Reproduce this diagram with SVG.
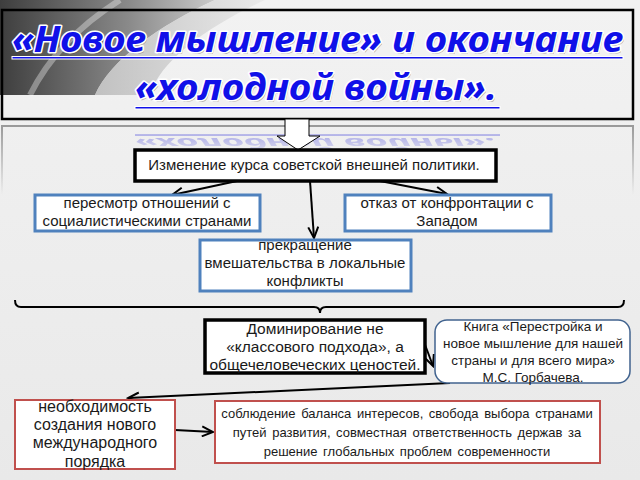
<svg xmlns="http://www.w3.org/2000/svg" width="640" height="480" viewBox="0 0 640 480">
<style>
.t{font-family:"Liberation Sans","DejaVu Sans",sans-serif;fill:#1a1a1a;text-anchor:middle}
.bk{fill:#fff;stroke:#000;stroke-width:3.5}
.bl{fill:#fff;stroke:#4f81bd;stroke-width:3}
.rd{fill:#fff;stroke:#c0504d;stroke-width:2}
.con line{stroke:#000;stroke-width:2;marker-end:url(#ah)}
.ttl{font-family:"Noto Sans","DejaVu Sans",sans-serif;font-style:italic;font-weight:bold;font-size:35px;fill:#1010e8;stroke:#fff;stroke-width:3;paint-order:stroke;stroke-linejoin:round}
.sh{font-family:"Noto Sans","DejaVu Sans",sans-serif;font-style:italic;font-weight:bold;font-size:35px;fill:#000;opacity:0.25}
</style>
<defs>
<linearGradient id="bg" x1="0" y1="0" x2="0" y2="1"><stop offset="0" stop-color="#f2f2f2"/><stop offset="1" stop-color="#e9e9e9"/></linearGradient>
<linearGradient id="sw" x1="0" y1="0" x2="1" y2="0"><stop offset="0" stop-color="#3e3e3e"/><stop offset="0.6" stop-color="#8a8a8a"/><stop offset="1" stop-color="#c9c9c9"/></linearGradient>
<linearGradient id="sw2" x1="0" y1="0" x2="1" y2="0"><stop offset="0" stop-color="#b5b5b5"/><stop offset="1" stop-color="#e8e8e8"/></linearGradient>
<linearGradient id="fr" gradientUnits="userSpaceOnUse" x1="0" y1="126" x2="0" y2="195"><stop offset="0" stop-color="#9a9a9a"/><stop offset="1" stop-color="#9a9a9a" stop-opacity="0"/></linearGradient>
<linearGradient id="rf" gradientUnits="userSpaceOnUse" x1="0" y1="133" x2="0" y2="155"><stop offset="0" stop-color="#fff" stop-opacity="0.9"/><stop offset="1" stop-color="#fff" stop-opacity="0.1"/></linearGradient>
<mask id="rm"><rect x="0" y="130" width="640" height="30" fill="url(#rf)"/></mask>
<marker id="ah" markerUnits="userSpaceOnUse" markerWidth="14" markerHeight="12" viewBox="0 0 14 12" refX="12" refY="6" orient="auto"><path d="M1,1 L12,6 L1,11" fill="none" stroke="#000" stroke-width="2"/></marker>
</defs>
<rect width="640" height="480" fill="url(#bg)"/>
<path d="M0,0 H215 C160,25 110,60 95,95 H0 Z" fill="url(#sw)"/>
<path d="M215,0 H265 C210,25 160,60 150,95 H95 C110,60 160,25 215,0 Z" fill="url(#sw2)" opacity="0.8"/>
<path d="M120,0 C80,25 50,55 30,95" fill="none" stroke="#fff" stroke-width="6" opacity="0.35"/>

<g id="title">
<rect x="2" y="10" width="631" height="109" fill="none" stroke="#000" stroke-width="2.5"/>
<text class="sh" x="13.5" y="53.5" textLength="611" lengthAdjust="spacingAndGlyphs">«Новое мышление» и окончание</text>
<text class="ttl" x="12" y="52" textLength="611" lengthAdjust="spacingAndGlyphs">«Новое мышление» и окончание</text>
<rect x="12" y="56.5" width="611" height="2.5" fill="#1010e8" stroke="#fff" stroke-width="1"/>
<text class="sh" x="136.5" y="101.5" textLength="362" lengthAdjust="spacingAndGlyphs">«холодной войны».</text>
<text class="ttl" x="135" y="100" textLength="362" lengthAdjust="spacingAndGlyphs">«холодной войны».</text>
<rect x="135" y="106.5" width="365" height="2.5" fill="#1010e8" stroke="#fff" stroke-width="1"/>
</g>

<g id="reflection" mask="url(#rm)">
<g transform="translate(0,180.4) scale(1,-0.42)" opacity="0.6">
<text class="ttl" x="135" y="100" textLength="362" lengthAdjust="spacingAndGlyphs" style="fill:#6a6ae0;stroke:none">«холодной войны».</text>
<rect x="135" y="106" width="365" height="4" fill="#6a6ae0"/>
</g>
</g>

<path id="frame" d="M2,195 V126 H633 V195" fill="none" stroke="url(#fr)" stroke-width="2"/>

<g id="bigarrow">
<path d="M285,119 H309 V136 H320 L298,150 L277,136 H285 Z" fill="#fff" stroke="#000" stroke-width="1"/>
</g>

<g class="con" id="connectors">
<line x1="237" y1="181" x2="172" y2="195"/>
<line x1="310" y1="181" x2="314" y2="238"/>
<line x1="380" y1="181" x2="447" y2="194"/>
<line x1="421" y1="334" x2="433" y2="366"/>
<line x1="450" y1="383" x2="128" y2="398"/>
<line x1="175" y1="430" x2="213" y2="432"/>
<path d="M15,300 Q15,307 21,307 H314 Q320,307 320,313 Q320,307 326,307 H618 Q624,307 624,300" fill="none" stroke="#000" stroke-width="2"/>
</g>

<g id="n-course">
<rect class="bk" x="135" y="150" width="361" height="31"/>
<text class="t" x="314" y="170" font-size="15">Изменение курса советской внешней политики.</text>
</g>

<g id="n-socialist">
<rect class="bl" x="35" y="195" width="225" height="36"/>
<text class="t" x="147" y="208" font-size="15">пересмотр отношений с</text>
<text class="t" x="147" y="226" font-size="15">социалистическими странами</text>
</g>

<g id="n-west">
<rect class="bl" x="345" y="195" width="206" height="36"/>
<text class="t" x="447" y="208" font-size="15">отказ от конфронтации с</text>
<text class="t" x="447" y="226" font-size="15">Западом</text>
</g>

<g id="n-local">
<rect class="bl" x="200" y="240" width="211" height="51"/>
<text class="t" x="305" y="250" font-size="15">прекращение</text>
<text class="t" x="305" y="268" font-size="15">вмешательства в локальные</text>
<text class="t" x="305" y="286" font-size="15">конфликты</text>
</g>

<g id="n-dominance">
<rect class="bk" x="205" y="320" width="220" height="53"/>
<text class="t" x="315" y="334" font-size="15.5">Доминирование не</text>
<text class="t" x="315" y="352" font-size="15.5">«классового подхода», а</text>
<text class="t" x="315" y="370" font-size="15.5">общечеловеческих ценостей.</text>
</g>

<g id="n-book">
<rect x="435" y="320" width="195" height="63" rx="12" fill="#fff" stroke="#41638f" stroke-width="1.5"/>
<text class="t" x="533" y="331" font-size="13.5">Книга «Перестройка и</text>
<text class="t" x="533" y="348" font-size="13.5">новое мышление для нашей</text>
<text class="t" x="533" y="365" font-size="13.5">страны и для всего мира»</text>
<text class="t" x="533" y="382" font-size="13.5">М.С. Горбачева.</text>
</g>

<g id="n-order">
<rect class="rd" x="15" y="400" width="160" height="69"/>
<text class="t" x="95" y="412" font-size="16">необходимость</text>
<text class="t" x="95" y="430" font-size="16">создания нового</text>
<text class="t" x="95" y="448" font-size="16">международного</text>
<text class="t" x="95" y="467" font-size="16">порядка</text>
</g>

<g id="n-balance">
<rect class="rd" x="215" y="401" width="385" height="62"/>
<text class="t" x="407" y="418" font-size="13" word-spacing="2">соблюдение баланса интересов, свобода выбора странами</text>
<text class="t" x="407" y="437" font-size="13" word-spacing="2">путей развития, совместная ответственность держав за</text>
<text class="t" x="407" y="456" font-size="13" word-spacing="2">решение глобальных проблем современности</text>
</g>
</svg>
